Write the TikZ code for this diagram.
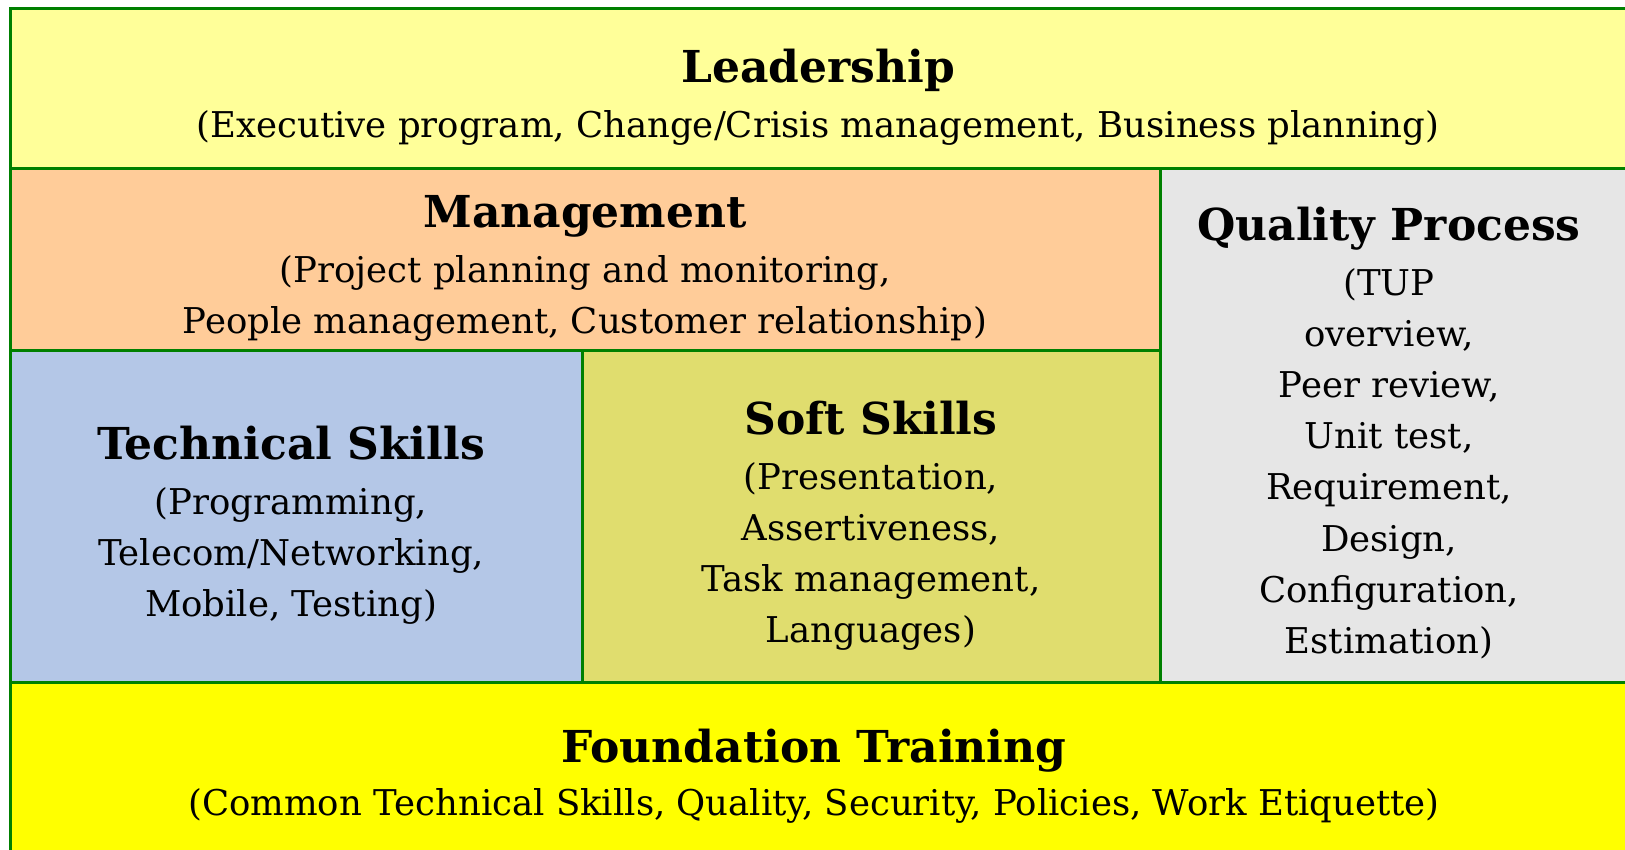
\documentclass[tikz,border=0pt]{standalone}
\usepackage{fontspec}
\setmainfont{DejaVu Serif}
\definecolor{linegreen}{HTML}{008000}
\definecolor{leadc}{HTML}{FFFF99}
\definecolor{mgmtc}{HTML}{FFCC99}
\definecolor{techc}{HTML}{B4C7E7}
\definecolor{softc}{HTML}{E0DD6E}
\definecolor{qualc}{HTML}{E6E6E6}
\definecolor{foundc}{HTML}{FFFF00}
\begin{document}
\begin{tikzpicture}[x=1pt,y=-1pt,
  box/.style={draw=linegreen, line width=3pt, inner sep=0pt, outer sep=0pt, anchor=north west},
  ttl/.style={anchor=base, inner sep=0pt, font=\fontsize{44}{52}\selectfont\bfseries},
  bdy/.style={anchor=base, inner sep=0pt, align=center, font=\fontsize{35.5}{51.2}\selectfont}]
\useasboundingbox (0,0) rectangle (1625,849);
\fill[white] (0,0) rectangle (1625,849);
\clip (0,0) rectangle (1625,849);
% boxes
\node[box, fill=leadc, minimum width=1617pt, minimum height=160pt] (lead) at (10,8) {};
\node[box, fill=mgmtc, minimum width=1150pt, minimum height=182pt] (mgmt) at (10,168) {};
\node[box, fill=qualc, minimum width=467pt, minimum height=514pt] (qual) at (1160,168) {};
\node[box, fill=techc, minimum width=572pt, minimum height=332pt] (tech) at (10,350) {};
\node[box, fill=softc, minimum width=578pt, minimum height=332pt] (soft) at (582,350) {};
\node[box, fill=foundc, minimum width=1617pt, minimum height=188pt] (found) at (10,682) {};
% texts (body nodes are placed by the baseline of their last line)
\node[ttl] (leadT) at (818,82) {Leadership};
\node[bdy] (leadB) at (818,137) {(Executive program, Change/Crisis management, Business planning)};
\node[ttl] (mgmtT) at (585,227) {Management};
\node[bdy] (mgmtB) at (585,333.2) {(Project planning and monitoring,\\People management, Customer relationship)};
\node[ttl] (qualT) at (1389,240) {Quality Process};
\node[bdy] (qualB) at (1389,653.4) {(TUP\\overview,\\Peer review,\\Unit test,\\Requirement,\\Design,\\Configuration,\\Estimation)};
\node[ttl] (techT) at (291,459) {Technical Skills};
\node[bdy] (techB) at (291,616.4) {(Programming,\\Telecom/Networking,\\Mobile, Testing)};
\node[ttl] (softT) at (871,434) {Soft Skills};
\node[bdy] (softB) at (871,642.6) {(Presentation,\\Assertiveness,\\Task management,\\Languages)};
\node[ttl] (foundT) at (814,762) {Foundation Training};
\node[bdy] (foundB) at (814,815) {(Common Technical Skills, Quality, Security, Policies, Work Etiquette)};
\end{tikzpicture}
\end{document}
